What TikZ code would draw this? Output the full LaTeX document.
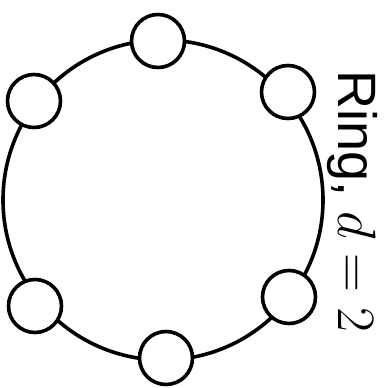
\RequirePackage{fix-cm}
\documentclass[tikz,border=0pt]{standalone}
\usepackage{fontspec}
\setsansfont{Liberation Sans}
\begin{document}
\begin{tikzpicture}[x=1pt,y=-1pt,
  vert/.style={circle,draw,line width=3.6pt,fill=white,minimum size=53pt,inner sep=0pt}]
\useasboundingbox (0,0) rectangle (387,388);
\node[circle,draw,line width=3.6pt,minimum size=320pt,inner sep=0pt] (ring) at (163,200) {};
\node[vert] (v1) at (158,41) {};
\node[vert] (v2) at (288,92) {};
\node[vert] (v3) at (289,297) {};
\node[vert] (v4) at (166,358) {};
\node[vert] (v5) at (35,306) {};
\node[vert] (v6) at (34,101) {};
\node[rotate=-90,anchor=base west,inner sep=0pt,font=\sffamily\fontsize{54}{58}\selectfont] (lbl) at (338,70) {Ring, $d=2$};
\end{tikzpicture}
\end{document}
